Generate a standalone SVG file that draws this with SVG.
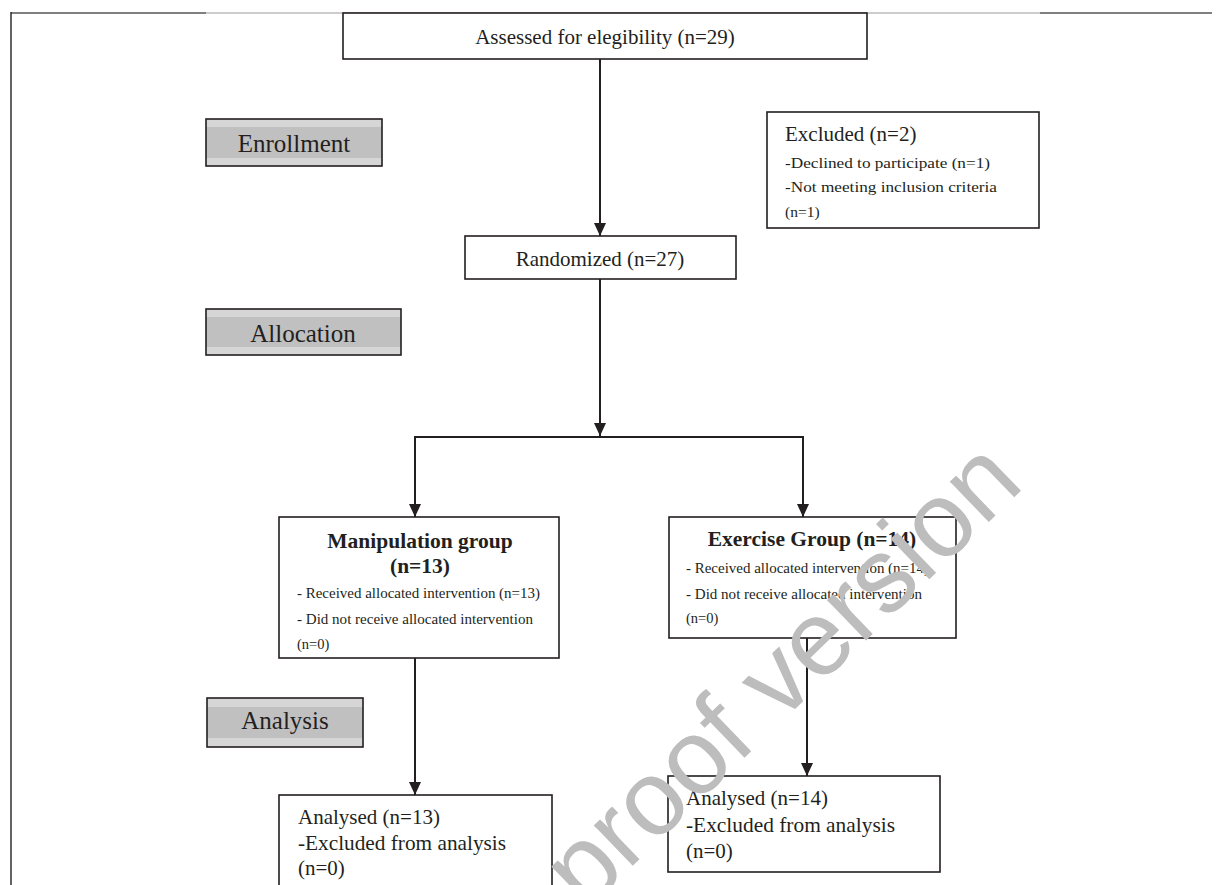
<svg xmlns="http://www.w3.org/2000/svg" width="1221" height="885" viewBox="0 0 1221 885">
<style>
.box{fill:#fff;stroke:#231f20;stroke-width:1.6}
.ph{stroke:#231f20;stroke-width:1.6}
.t{font-family:"Liberation Serif","Times New Roman",serif;fill:#231f20}
.b{font-weight:bold}
.c{stroke:#231f20;stroke-width:2;fill:none}
.wm{font-family:"Liberation Sans",Arial,sans-serif;fill:#bdbdbd}
</style>
<defs>
<marker id="ah" viewBox="0 0 13 12" refX="13" refY="6" markerWidth="13" markerHeight="12" markerUnits="userSpaceOnUse" orient="auto">
<path d="M0,0 L13,6 L0,12 Z" fill="#231f20"/>
</marker>
<linearGradient id="band" x1="0" y1="0" x2="0" y2="1">
<stop offset="0" stop-color="#d6d6d6"/><stop offset="0.18" stop-color="#d6d6d6"/>
<stop offset="0.18" stop-color="#c0c0c0"/><stop offset="0.82" stop-color="#c0c0c0"/>
<stop offset="0.82" stop-color="#d6d6d6"/><stop offset="1" stop-color="#d6d6d6"/>
</linearGradient>
</defs>
<rect x="0" y="0" width="1221" height="885" fill="#fff"/>
<g id="frame">
<line x1="11" y1="13" x2="206" y2="13" stroke="#808080" stroke-width="2"/>
<line x1="206" y1="13" x2="1040" y2="13" stroke="#9a9a9a" stroke-width="1"/>
<line x1="1040" y1="13" x2="1212" y2="13" stroke="#808080" stroke-width="2"/>
<line x1="11" y1="12" x2="11" y2="885" stroke="#231f20" stroke-width="1.4"/>
</g>
<g id="connectors">
<line class="c" x1="600" y1="59" x2="600" y2="236" marker-end="url(#ah)"/>
<line class="c" x1="600" y1="279" x2="600" y2="436" marker-end="url(#ah)"/>
<polyline class="c" points="415,505 415,437 803,437 803,505" />
<line class="c" x1="415" y1="437" x2="415" y2="517" marker-end="url(#ah)"/>
<line class="c" x1="803" y1="437" x2="803" y2="517" marker-end="url(#ah)"/>
<line class="c" x1="415" y1="658" x2="415" y2="795" marker-end="url(#ah)"/>
<line class="c" x1="807" y1="638" x2="807" y2="776" marker-end="url(#ah)"/>
</g>
<g id="assessed">
<rect class="box" x="343" y="13" width="524" height="46"/>
<text class="t" x="605" y="44" font-size="21" text-anchor="middle">Assessed for elegibility (n=29)</text>
</g>
<g id="excluded">
<rect class="box" x="767" y="112" width="272" height="116"/>
<text class="t" x="785" y="141" font-size="21">Excluded (n=2)</text>
<text class="t" x="785" y="168" font-size="15.5" textLength="205" lengthAdjust="spacingAndGlyphs">-Declined to participate (n=1)</text>
<text class="t" x="785" y="192" font-size="15.5" textLength="212" lengthAdjust="spacingAndGlyphs">-Not meeting inclusion criteria</text>
<text class="t" x="785" y="217" font-size="15.5">(n=1)</text>
</g>
<g id="enrollment">
<rect class="ph" x="206" y="119" width="176" height="47" fill="url(#band)"/>
<text class="t" x="294" y="152" font-size="25" text-anchor="middle">Enrollment</text>
</g>
<g id="randomized">
<rect class="box" x="465" y="236" width="271" height="43"/>
<text class="t" x="600" y="266" font-size="21" text-anchor="middle">Randomized (n=27)</text>
</g>
<g id="allocation">
<rect class="ph" x="206" y="309" width="195" height="46" fill="url(#band)"/>
<text class="t" x="303" y="342" font-size="25" text-anchor="middle">Allocation</text>
</g>
<g id="manipulation">
<rect class="box" x="279" y="517" width="280" height="141"/>
<text class="t b" x="420" y="548" font-size="21.5" text-anchor="middle">Manipulation group</text>
<text class="t b" x="420" y="573" font-size="21.5" text-anchor="middle">(n=13)</text>
<text class="t" x="297" y="598" font-size="14.5" textLength="243" lengthAdjust="spacingAndGlyphs">- Received allocated intervention (n=13)</text>
<text class="t" x="297" y="624" font-size="14.5" textLength="236" lengthAdjust="spacingAndGlyphs">- Did not receive allocated intervention</text>
<text class="t" x="297" y="649" font-size="14.5">(n=0)</text>
</g>
<g id="exercise">
<rect class="box" x="669" y="517" width="287" height="121"/>
<text class="t b" x="812" y="546" font-size="21.5" text-anchor="middle">Exercise Group (n=14)</text>
<text class="t" x="686" y="573" font-size="14.5" textLength="243" lengthAdjust="spacingAndGlyphs">- Received allocated intervention (n=14)</text>
<text class="t" x="686" y="599" font-size="14.5" textLength="236" lengthAdjust="spacingAndGlyphs">- Did not receive allocated intervention</text>
<text class="t" x="686" y="623" font-size="14.5">(n=0)</text>
</g>
<g id="analysis">
<rect class="ph" x="207" y="698" width="156" height="49" fill="url(#band)"/>
<text class="t" x="285" y="729" font-size="25" text-anchor="middle">Analysis</text>
</g>
<g id="analysed13">
<rect class="box" x="279" y="795" width="273" height="100"/>
<text class="t" x="298" y="824" font-size="21">Analysed (n=13)</text>
<text class="t" x="298" y="850" font-size="21" textLength="208" lengthAdjust="spacingAndGlyphs">-Excluded from analysis</text>
<text class="t" x="298" y="875" font-size="21">(n=0)</text>
</g>
<g id="analysed14">
<rect class="box" x="668" y="776" width="272" height="96"/>
<text class="t" x="686" y="805" font-size="21">Analysed (n=14)</text>
<text class="t" x="686" y="832" font-size="21" textLength="209" lengthAdjust="spacingAndGlyphs">-Excluded from analysis</text>
<text class="t" x="686" y="858" font-size="21">(n=0)</text>
</g>
<g id="watermark">
<text class="wm" transform="translate(1026,486) rotate(-44)" font-size="106" text-anchor="end">proof version</text>
</g>
</svg>
